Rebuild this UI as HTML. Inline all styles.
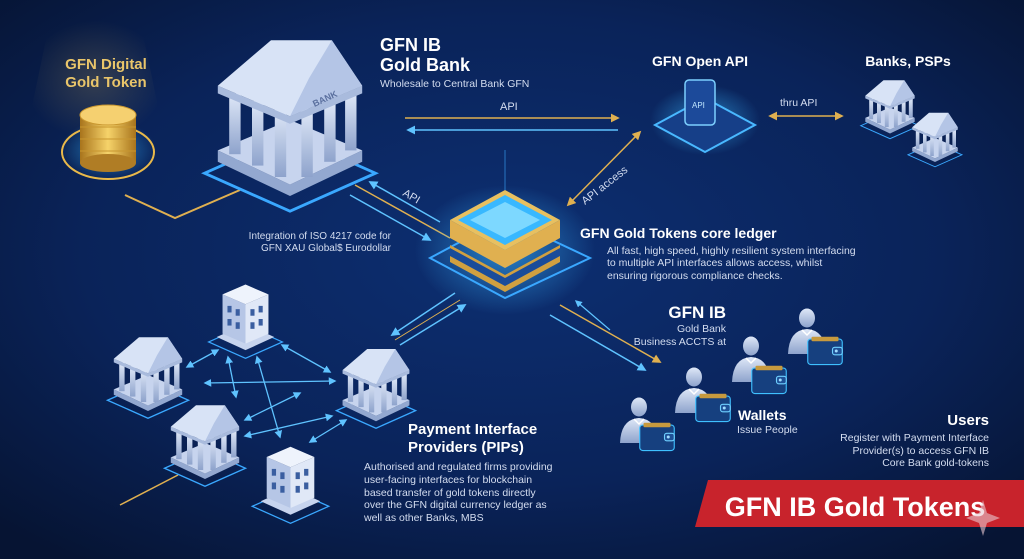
<!DOCTYPE html>
<html><head><meta charset="utf-8"><style>
html,body{margin:0;padding:0;width:1024px;height:559px;overflow:hidden;background:#081a45}
svg{display:block}
text{font-family:"Liberation Sans",sans-serif}
</style></head><body>
<svg width="1024" height="559" viewBox="0 0 1024 559" xmlns="http://www.w3.org/2000/svg">
<defs>
<radialGradient id="bg" cx="0.5" cy="0.45" r="0.7">
<stop offset="0" stop-color="#0d2f72"/><stop offset="0.6" stop-color="#0a2359"/><stop offset="1" stop-color="#061433"/></radialGradient>
<linearGradient id="stone" x1="0" y1="0" x2="0" y2="1"><stop offset="0" stop-color="#dfe8f8"/><stop offset="1" stop-color="#8ea3cc"/></linearGradient>
<linearGradient id="gold" x1="0" y1="0" x2="1" y2="0"><stop offset="0" stop-color="#a8741c"/><stop offset="0.5" stop-color="#f6d36a"/><stop offset="1" stop-color="#a8741c"/></linearGradient>
<radialGradient id="glow" cx="0.5" cy="0.5" r="0.5"><stop offset="0" stop-color="#3ab8ff" stop-opacity="0.6"/><stop offset="1" stop-color="#3ab8ff" stop-opacity="0"/></radialGradient>
<radialGradient id="gglow" cx="0.5" cy="0.5" r="0.5"><stop offset="0" stop-color="#ffcf5a" stop-opacity="0.35"/><stop offset="1" stop-color="#ffcf5a" stop-opacity="0"/></radialGradient>
<symbol id="bank" viewBox="0 0 100 100">
<polygon points="5,78 50,98 95,78 50,58" fill="none" stroke="#3aa8ff" stroke-width="1.5"/>
<polygon points="12,72 50,90 88,72 88,66 50,84 12,66" fill="#93a8d0"/>
<polygon points="12,66 50,84 88,66 50,50" fill="#c7d4ee"/>
<g fill="url(#stone)"><rect x="18" y="36" width="6" height="32"/><rect x="30" y="40" width="6" height="34"/><rect x="42" y="44" width="6" height="36"/><rect x="56" y="44" width="6" height="36"/><rect x="68" y="40" width="6" height="32"/><rect x="79" y="36" width="6" height="30"/></g>
<polygon points="12,36 50,52 88,36 88,32 50,48 12,32" fill="#a9bbdd"/>
<polygon points="12,32 40,8 72,8 88,32 50,48" fill="#d8e3f6"/>
<polygon points="50,48 88,32 72,8 60,28" fill="#b4c5e6"/>
</symbol>
<symbol id="office" viewBox="0 0 100 100">
<polygon points="5,78 50,98 95,78 50,58" fill="none" stroke="#3aa8ff" stroke-width="1.5"/>
<polygon points="15,72 50,88 85,72 50,56" fill="#c7d4ee"/>
<polygon points="22,20 50,32 50,80 22,68" fill="#b6c6e6"/>
<polygon points="50,32 78,20 78,68 50,80" fill="#e0e8f7"/>
<polygon points="22,20 50,8 78,20 50,32" fill="#eef3fc"/>
<g fill="#3a5ea0"><rect x="28" y="34" width="5" height="8"/><rect x="38" y="38" width="5" height="8"/><rect x="28" y="50" width="5" height="8"/><rect x="38" y="54" width="5" height="8"/><rect x="56" y="38" width="5" height="8"/><rect x="66" y="34" width="5" height="8"/><rect x="56" y="54" width="5" height="8"/><rect x="66" y="50" width="5" height="8"/></g>
</symbol>
<symbol id="person" viewBox="0 0 100 100">
<ellipse cx="50" cy="28" rx="16" ry="19" fill="url(#stone)"/>
<path d="M12,100 Q14,52 50,50 Q86,52 88,100 Z" fill="url(#stone)"/>
<path d="M40,52 L50,62 L60,52" stroke="#fff" stroke-width="3" fill="none"/>
</symbol>
<symbol id="wallet" viewBox="0 0 100 80">
<rect x="4" y="8" width="92" height="68" rx="8" fill="#16407f" stroke="#3fc0ff" stroke-width="3"/>
<rect x="14" y="2" width="72" height="12" rx="3" fill="#c79a3e"/>
<rect x="70" y="30" width="26" height="20" rx="6" fill="#1e5096" stroke="#6fd0ff" stroke-width="3"/>
<circle cx="80" cy="40" r="4" fill="#9fdcff"/>
</symbol>
<marker id="ab" viewBox="0 0 10 10" refX="8" refY="5" markerWidth="6" markerHeight="6" orient="auto-start-reverse"><path d="M0,0 L10,5 L0,10 z" fill="#5fc3ff"/></marker>
<marker id="ag" viewBox="0 0 10 10" refX="8" refY="5" markerWidth="6" markerHeight="6" orient="auto-start-reverse"><path d="M0,0 L10,5 L0,10 z" fill="#e0b050"/></marker>
</defs>
<rect width="1024" height="559" fill="url(#bg)"/>

<!-- gold token -->
<polygon points="50,20 140,20 165,140 25,140" fill="url(#gglow)" opacity="0.5"/>
<ellipse cx="108" cy="150" rx="48" ry="30" fill="url(#glow)"/>
<ellipse cx="108" cy="152" rx="46" ry="27" fill="none" stroke="#e9b94a" stroke-width="2"/>
<g>
<rect x="80" y="115" width="56" height="48" fill="url(#gold)"/>
<ellipse cx="108" cy="163" rx="28" ry="9" fill="#b07d25"/>
<ellipse cx="108" cy="115" rx="28" ry="10" fill="#f5d070" stroke="#c8962f"/>
<g stroke="#c8962f"><line x1="80" y1="127" x2="136" y2="127"/><line x1="80" y1="139" x2="136" y2="139"/><line x1="80" y1="151" x2="136" y2="151"/></g>
</g>
<text x="106" y="69" fill="#e9c56a" font-size="15" font-weight="bold" text-anchor="middle">GFN Digital</text>
<text x="106" y="87" fill="#e9c56a" font-size="15" font-weight="bold" text-anchor="middle">Gold Token</text>
<polyline points="125,195 175,218 240,190" fill="none" stroke="#e0b050" stroke-width="2"/>

<!-- big bank -->
<use href="#bank" x="190" y="25" width="200" height="190"/>
<text x="312" y="104" fill="#5a6f9e" font-size="9" font-weight="bold" transform="rotate(-25 320 100)">BANK</text>
<text x="380" y="51" fill="#fff" font-size="18" font-weight="bold">GFN IB</text>
<text x="380" y="71" fill="#fff" font-size="18" font-weight="bold">Gold Bank</text>
<text x="380" y="87" fill="#d4ddf0" font-size="10.5">Wholesale to Central Bank GFN</text>

<!-- API horizontal -->
<text x="500" y="110" fill="#d4ddf0" font-size="11">API</text>
<line x1="405" y1="118" x2="618" y2="118" stroke="#e0b050" stroke-width="1.5" marker-end="url(#ag)"/>
<line x1="618" y1="130" x2="408" y2="130" stroke="#5fc3ff" stroke-width="1.5" marker-end="url(#ab)"/>

<!-- API diagonal left -->
<line x1="440" y1="222" x2="370" y2="182" stroke="#5fc3ff" stroke-width="1.5" marker-end="url(#ab)"/>
<line x1="355" y1="185" x2="450" y2="238" stroke="#e0b050" stroke-width="1.5"/>
<line x1="350" y1="195" x2="430" y2="240" stroke="#5fc3ff" stroke-width="1.5" marker-end="url(#ab)"/>
<text x="402" y="195" fill="#d4ddf0" font-size="11" transform="rotate(30 402 195)">API</text>
<text x="391" y="239" fill="#d4ddf0" font-size="10" text-anchor="end">Integration of ISO 4217 code for</text>
<text x="391" y="251" fill="#d4ddf0" font-size="10" text-anchor="end">GFN XAU Global$ Eurodollar</text>

<!-- core ledger -->
<ellipse cx="505" cy="250" rx="90" ry="65" fill="url(#glow)"/>
<polygon points="430,258 505,298 590,258 505,218" fill="none" stroke="#3aa8ff" stroke-width="2"/>
<polygon points="450,245 505,275 560,245 560,262 505,292 450,262" fill="#d0a040"/>
<polygon points="450,248 505,278 560,248 560,256 505,286 450,256" fill="#1a4c9a"/>
<polygon points="450,220 505,250 560,220 560,238 505,268 450,238" fill="#e0b050"/>
<polygon points="450,220 505,190 560,220 505,250" fill="#e8c060"/>
<polygon points="458,220 505,195 552,220 505,245" fill="#38b8ff"/>
<polygon points="470,220 505,202 540,220 505,238" fill="#7dd8ff"/>
<line x1="505" y1="150" x2="505" y2="190" stroke="#3aa8ff" stroke-width="1" opacity="0.6"/>

<!-- API access -->
<line x1="640" y1="132" x2="568" y2="205" stroke="#e0b050" stroke-width="1.5" marker-start="url(#ag)" marker-end="url(#ag)"/>
<text x="585" y="205" fill="#d4ddf0" font-size="11" transform="rotate(-38 585 205)">API access</text>

<text x="580" y="238" fill="#fff" font-size="14" font-weight="bold">GFN Gold Tokens core ledger</text>
<text x="607" y="254" fill="#d4ddf0" font-size="10.5">All fast, high speed, highly resilient system interfacing</text>
<text x="607" y="266" fill="#d4ddf0" font-size="10.5">to multiple API interfaces allows access, whilst</text>
<text x="607" y="279" fill="#d4ddf0" font-size="10.5">ensuring rigorous compliance checks.</text>

<!-- open API device -->
<text x="700" y="66" fill="#fff" font-size="14" font-weight="bold" text-anchor="middle">GFN Open API</text>
<ellipse cx="705" cy="120" rx="55" ry="35" fill="url(#glow)"/>
<polygon points="655,125 705,152 755,125 705,98" fill="#163f88" stroke="#49b8ff" stroke-width="2"/>
<rect x="685" y="80" width="30" height="45" rx="4" fill="#1c4a9a" stroke="#7dd0ff" stroke-width="1.5"/>
<text x="692" y="108" fill="#bfe6ff" font-size="8">API</text>
<text x="780" y="106" fill="#d4ddf0" font-size="10.5">thru API</text>
<line x1="770" y1="116" x2="842" y2="116" stroke="#e0b050" stroke-width="1.5" marker-start="url(#ag)" marker-end="url(#ag)"/>
<text x="908" y="66" fill="#fff" font-size="14" font-weight="bold" text-anchor="middle">Banks, PSPs</text>
<use href="#bank" x="855" y="75" width="70" height="65"/>
<use href="#bank" x="905" y="108" width="60" height="60"/>

<!-- PIP network -->
<line x1="455" y1="293" x2="392" y2="335" stroke="#5fc3ff" stroke-width="1.5" marker-end="url(#ab)"/>
<line x1="400" y1="345" x2="465" y2="305" stroke="#5fc3ff" stroke-width="1.5" marker-end="url(#ab)"/>
<line x1="395" y1="340" x2="460" y2="300" stroke="#e0b050" stroke-width="1"/>
<g stroke="#5fc3ff" stroke-width="1.3" fill="none">
<line x1="187" y1="367" x2="218" y2="350" marker-start="url(#ab)" marker-end="url(#ab)"/>
<line x1="205" y1="383" x2="335" y2="381" marker-start="url(#ab)" marker-end="url(#ab)"/>
<line x1="228" y1="357" x2="236" y2="397" marker-start="url(#ab)" marker-end="url(#ab)"/>
<line x1="257" y1="357" x2="280" y2="437" marker-start="url(#ab)" marker-end="url(#ab)"/>
<line x1="282" y1="345" x2="330" y2="372" marker-start="url(#ab)" marker-end="url(#ab)"/>
<line x1="245" y1="420" x2="300" y2="393" marker-start="url(#ab)" marker-end="url(#ab)"/>
<line x1="245" y1="436" x2="332" y2="416" marker-start="url(#ab)" marker-end="url(#ab)"/>
<line x1="310" y1="442" x2="346" y2="420" marker-start="url(#ab)" marker-end="url(#ab)"/>
</g>
<line x1="120" y1="505" x2="178" y2="475" stroke="#e0b050" stroke-width="1.5"/>
<use href="#office" x="198" y="278" width="95" height="82"/>
<use href="#bank" x="98" y="330" width="100" height="90"/>
<use href="#bank" x="155" y="398" width="100" height="90"/>
<use href="#bank" x="328" y="342" width="96" height="88"/>
<use href="#office" x="243" y="440" width="95" height="85"/>
<text x="408" y="434" fill="#fff" font-size="15" font-weight="bold">Payment Interface</text>
<text x="408" y="452" fill="#fff" font-size="15" font-weight="bold">Providers (PIPs)</text>
<g fill="#d4ddf0" font-size="10.5">
<text x="364" y="470">Authorised and regulated firms providing</text>
<text x="364" y="483">user-facing interfaces for blockchain</text>
<text x="364" y="496">based transfer of gold tokens directly</text>
<text x="364" y="508">over the GFN digital currency ledger as</text>
<text x="364" y="521">well as other Banks, MBS</text>
</g>

<!-- users arrows -->
<line x1="560" y1="305" x2="660" y2="362" stroke="#e0b050" stroke-width="1.5" marker-end="url(#ag)"/>
<line x1="550" y1="315" x2="645" y2="370" stroke="#5fc3ff" stroke-width="1.5" marker-end="url(#ab)"/>
<line x1="610" y1="330" x2="576" y2="301" stroke="#5fc3ff" stroke-width="1.2" marker-end="url(#ab)"/>
<text x="726" y="318" fill="#fff" font-size="17" font-weight="bold" text-anchor="end">GFN IB</text>
<text x="726" y="332" fill="#d4ddf0" font-size="10.5" text-anchor="end">Gold Bank</text>
<text x="726" y="345" fill="#d4ddf0" font-size="10.5" text-anchor="end">Business ACCTS at</text>
<use href="#person" x="782" y="295" width="50" height="68"/>
<use href="#wallet" x="806" y="336" width="38" height="30"/>
<use href="#person" x="726" y="322" width="50" height="70"/>
<use href="#wallet" x="750" y="365" width="38" height="30"/>
<use href="#person" x="669" y="353" width="50" height="70"/>
<use href="#wallet" x="694" y="393" width="38" height="30"/>
<use href="#person" x="614" y="383" width="50" height="70"/>
<use href="#wallet" x="638" y="422" width="38" height="30"/>
<text x="738" y="420" fill="#fff" font-size="14" font-weight="bold">Wallets</text>
<text x="737" y="433" fill="#d4ddf0" font-size="10.5">Issue People</text>
<text x="989" y="425" fill="#fff" font-size="15" font-weight="bold" text-anchor="end">Users</text>
<g fill="#d4ddf0" font-size="10.5" text-anchor="end">
<text x="989" y="441">Register with Payment Interface</text>
<text x="989" y="454">Provider(s) to access GFN IB</text>
<text x="989" y="466">Core Bank gold-tokens</text>
</g>

<!-- banner -->
<polygon points="708,480 1024,480 1024,527 695,527" fill="#c8232c"/>
<text x="855" y="516" fill="#fff" font-size="27" font-weight="bold" text-anchor="middle">GFN IB Gold Tokens</text>
<path d="M983,500 L987,513 L1000,518 L987,523 L983,536 L979,523 L966,518 L979,513 Z" fill="#e8c8d0" opacity="0.6"/>
</svg>
</body></html>
